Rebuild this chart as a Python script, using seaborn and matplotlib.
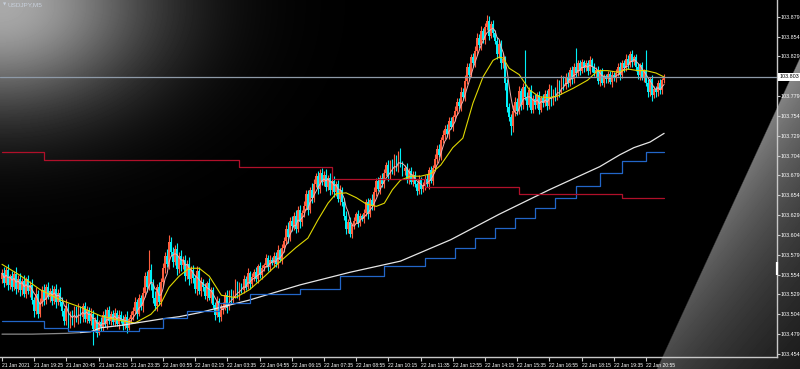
import numpy as np
import pandas as pd
import matplotlib
matplotlib.use("Agg")
import matplotlib.pyplot as plt
import matplotlib.transforms as mtransforms
import seaborn as sns

sns.set_theme(style="dark")
plt.rcParams['font.family'] = ['Liberation Sans', 'DejaVu Sans']

# ---------------- data (prices in points above 103.000, 1 pt = 0.001) ----------------
BASE = 103.0
first_open = 548
close_pts = [
    556,544,560,541,552, 538,555,536,549,534, 546,530,548,533,541, 522,508,530,505,518,
    535,522,539,526,533, 521,536,519,531,520, 508,495,515,492,503, 494,510,497,512,500,
    514,498,510,496,505, 486,497,481,494,488, 503,492,509,495,505, 494,506,492,503,497,
    489,501,487,498,503, 508,519,505,524,514, 531,552,538,560,542, 524,515,538,520,545,
    562,578,568,595,583, 570,586,561,578,566, 572,552,568,548,560, 550,536,558,533,545,
    538,527,543,525,534, 516,503,521,501,510, 514,528,512,531,522, 530,543,527,540,535,
    548,539,556,542,551, 557,549,565,553,562, 566,575,563,573,569, 578,568,585,573,588,
    596,612,601,622,615, 628,612,636,620,632, 640,655,636,661,650, 668,678,662,682,671,
    680,665,676,661,672, 658,668,649,660,646, 628,612,620,605,616, 622,630,619,628,624,
    632,645,630,648,640, 658,672,662,676,668, 682,692,678,695,686, 700,688,706,692,684,
    688,674,685,671,680, 668,659,673,662,666, 675,668,686,672,688, 700,712,705,724,730,
    738,731,748,740,752, 760,772,766,784,778, 798,815,806,828,820, 836,852,843,861,850,
    866,874,855,870,858, 848,832,845,820,826, 795,765,752,741,760, 772,760,785,768,790,
    778,768,786,762,775, 768,780,762,776,770, 782,766,788,772,784, 778,795,784,800,792,
    803,795,812,800,815, 808,820,811,822,814, 820,810,824,815,808, 812,798,810,796,804,
    800,807,797,806,802, 808,816,805,820,814, 826,818,832,822,828, 815,805,818,802,810,
    796,784,800,780,788, 784,796,786,799,803]
wick_up = [
    5,8,4,7,3, 6,4,9,5,7, 4,8,3,6,5, 7,4,8,5,6,
    5,7,3,6,4, 8,4,6,5,7, 6,4,8,3,5, 7,5,4,6,3,
    4,6,5,3,7, 5,4,7,3,6, 5,8,4,6,3, 4,6,3,7,5,
    6,4,7,3,5, 5,7,4,6,4, 8,5,6,25,7, 6,9,4,7,5,
    7,5,8,9,6, 6,5,8,4,7, 5,7,4,8,5, 6,4,7,5,6,
    4,6,3,7,5, 5,4,6,3,7, 6,4,7,3,5, 4,6,3,5,4,
    5,4,6,3,5, 4,6,3,5,4, 3,5,4,6,3, 5,4,6,3,5,
    6,5,8,4,6, 5,7,4,6,3, 7,5,6,4,8, 6,4,7,5,6,
    5,7,4,6,3, 6,4,5,7,4, 5,6,4,7,3, 4,3,5,4,3,
    5,4,6,3,7, 6,4,5,3,6, 5,4,6,4,5, 6,5,4,7,5,
    4,6,3,5,4, 5,3,6,4,5, 4,6,3,5,4, 6,5,7,4,6,
    5,6,4,5,3, 6,5,4,6,5, 7,5,6,4,5, 6,7,5,6,4,
    5,7,6,4,5, 4,6,5,4,7, 4,6,5,4,8, 6,5,7,4,6,
    47,6,4,7,5, 6,4,5,3,6, 5,4,6,5,4, 6,5,4,5,4,
    5,6,4,5,5, 25,4,5,4,3, 5,4,6,3,5, 4,5,3,4,3,
    3,4,3,4,3, 5,4,6,5,4, 6,5,4,5,3, 4,5,3,4,3,
    27,5,3,5,4, 4,3,5,3,4]
wick_dn = [
    4,6,3,7,5, 5,3,6,4,7, 6,4,5,3,7, 5,8,4,6,5,
    4,6,5,3,7, 5,4,7,3,6, 6,5,4,7,5, 4,6,3,5,7,
    6,4,5,3,6, 21,4,6,3,5, 5,4,6,3,5, 4,5,3,6,4,
    5,4,6,3,5, 6,4,7,3,5, 7,5,6,4,8, 6,5,7,4,6,
    5,6,4,7,5, 6,4,7,5,8, 5,6,4,7,5, 6,5,8,4,6,
    5,4,6,3,7, 4,6,3,7,5, 5,4,6,3,5, 4,6,3,5,4,
    4,5,3,6,4, 5,4,6,3,5, 4,3,5,4,3, 5,4,6,3,5,
    6,4,7,5,6, 5,6,4,7,5, 6,5,7,4,6, 5,4,6,5,4,
    5,6,4,7,5, 6,5,4,7,6, 5,7,6,4,5, 4,3,5,4,3,
    5,4,6,3,5, 4,5,3,6,4, 5,4,6,3,5, 6,4,5,3,6,
    5,4,6,3,5, 4,5,3,6,4, 5,4,6,3,5, 4,5,3,6,4,
    5,4,6,3,5, 4,5,3,6,4, 5,4,6,3,5, 4,5,3,6,4,
    5,4,6,3,5, 4,6,5,7,6, 8,6,5,11,7, 6,5,4,7,5,
    4,6,3,5,4, 5,4,6,3,5, 4,5,3,6,4, 5,4,6,3,5,
    4,5,3,6,4, 5,4,6,3,5, 4,5,3,6,4, 5,4,6,3,5,
    4,5,3,6,4, 5,4,6,3,5, 4,5,3,6,4, 5,4,6,3,5,
    4,6,5,7,4, 6,5,4,5,3]

# slow moving average (yellow), sampled along the line
yellow_bar = [0,9,19,29,39,49,59,66,74,79,83,88,93,98,103,109,116,123,131,138,
              146,152,157,162,166,171,176,181,186,190,194,198,203,208,213,218,224,229,234,239,
              244,247,249,252,257,262,267,272,276,284,291,296,301,306,311,316,320,325,329]
yellow_pts = [567,553,535,522,513,502,496,493,504,518,538,552,562,562,552,528,525,535,553,570,
              588,600,623,644,656,657,651,643,640,644,661,673,678,678,681,692,714,726,770,803,
              824,828,827,814,806,787,778,777,779,789,799,811,811,809,813,811,811,808,803]
# long moving average (grey -> white)
white_bar = [0,15,32,39,44,49,59,69,79,88,98,123,148,173,198,223,247,272,297,307,314,322,329]
white_pts = [479,479,480,481,482,487,490,494,498,501,506,522,541,557,571,598,630,661,690,705,714,721,732]
# lower channel (blue steps)
blue_bar = [0,21,33,68,80,92,108,123,148,168,190,210,225,235,245,255,265,275,285,297,308,320,329]
blue_pts = [496,487,483,487,499,508,518,529,536,552,565,575,588,600,613,625,638,651,666,682,697,708,708]
# upper channel (red steps)
red_bar = [0,21,118,164,210,257,308,329]
red_pts = [708,698,689,674,664,656,651,651]

current_price = 103.803
axis_marker = [103.554, 103.570]
price_ticks = ["103.454","103.479","103.504","103.529","103.554","103.579","103.604","103.629",
               "103.654","103.679","103.704","103.729","103.754","103.779","103.804","103.829",
               "103.854","103.879"]
time_labels = ["21 Jan 2021","21 Jan 19:25","21 Jan 20:45","21 Jan 22:15","21 Jan 23:35",
               "22 Jan 00:55","22 Jan 02:15","22 Jan 03:35","22 Jan 04:55","22 Jan 06:15",
               "22 Jan 07:35","22 Jan 08:55","22 Jan 10:15","22 Jan 11:35","22 Jan 12:55",
               "22 Jan 14:15","22 Jan 15:35","22 Jan 16:55","22 Jan 18:15","22 Jan 19:35",
               "22 Jan 20:55"]
time_label_bars = [16 * k for k in range(len(time_labels))]

# ---------------- derived candle table ----------------
closes = BASE + np.array(close_pts) / 1000.0
opens = np.concatenate([[BASE + first_open / 1000.0], closes[:-1]])
highs = np.maximum(opens, closes) + np.array(wick_up) / 1000.0
lows = np.minimum(opens, closes) - np.array(wick_dn) / 1000.0
df = pd.DataFrame({"bar": np.arange(len(closes)), "open": opens, "close": closes,
                   "high": highs, "low": lows})
df["fast"] = df["close"].rolling(5, min_periods=1).mean()

# ---------------- figure ----------------
W, H = 800, 369
fig = plt.figure(figsize=(W / 100, H / 100), dpi=100, facecolor="black")

# background light effects (soft glow top-left, light beam bottom-right)
bg = fig.add_axes([0, 0, 1, 1], zorder=0)
yy, xx = np.mgrid[0:H, 0:W].astype(float)
glow = 0.66 * np.exp(-((xx / 152.0) ** 2 + ((yy - 5) / 105.0) ** 2))
edge_x = 799 - 0.46 * (yy - 57)
inside = np.clip((xx - edge_x) / 1.5, 0, 1)
dist = np.clip(xx - edge_x, 0, None) * np.cos(np.arctan(0.46))
beam = inside * 0.55 * np.exp(-dist / 130) * np.clip(1 - (yy - 57) / 650, 0, 1)
img = np.clip(glow + beam, 0, 1)
bg.imshow(img, cmap="gray", vmin=0, vmax=1, extent=(0, W, H, 0), aspect="auto",
          interpolation="bilinear")
bg.set_axis_off()

ax = fig.add_axes([0, 12 / H, 777 / W, 357 / H], zorder=1)
ax.set_facecolor("none")

up = df["close"] >= df["open"]
col = np.where(up, "#ff5e3e", "#00f0f8")
ax.vlines(df["bar"], df["low"], df["high"], colors=col, lw=0.8, zorder=2)
body_h = np.maximum((df["close"] - df["open"]).abs(), 0.0006)
ax.bar(df["bar"], body_h, bottom=np.minimum(df["open"], df["close"]), width=0.9,
       color=col, linewidth=0, zorder=3)

# indicators
sns.lineplot(x=df["bar"].values, y=df["fast"].values, ax=ax, color="#f4b0b0", lw=0.7,
             estimator=None, sort=False, zorder=4)
yb = np.array(yellow_bar); yp = BASE + np.array(yellow_pts) / 1000.0
sns.lineplot(x=yb, y=yp, ax=ax, color="#e0d800", lw=0.8, estimator=None, sort=False, zorder=5)
wb = np.array(white_bar); wp = BASE + np.array(white_pts) / 1000.0
g = wb <= 39
sns.lineplot(x=wb[g], y=wp[g], ax=ax, color="#8a8a8a", lw=0.9, estimator=None, sort=False, zorder=5)
sns.lineplot(x=wb[wb >= 39], y=wp[wb >= 39], ax=ax, color="#e6e6e6", lw=0.9,
             estimator=None, sort=False, zorder=5)
sns.lineplot(x=np.array(blue_bar), y=BASE + np.array(blue_pts) / 1000.0, ax=ax, color="#2266c8",
             lw=0.9, estimator=None, sort=False, drawstyle="steps-post", zorder=5)
sns.lineplot(x=np.array(red_bar), y=BASE + np.array(red_pts) / 1000.0, ax=ax, color="#b0102a",
             lw=0.9, estimator=None, sort=False, drawstyle="steps-post", zorder=5)

ax.axhline(current_price, color="#8e9aa8", lw=0.9, zorder=6)

# axes scales: bar i sits at 2 + 2.0125*i px
px_per_bar = 2.0125
ax.set_xlim(-2 / px_per_bar, (777 - 2) / px_per_bar)
ax.set_ylim(103.4502, 103.9000)

ax.yaxis.tick_right()
ax.set_yticks([float(t) for t in price_ticks])
ax.set_yticklabels([t if t != "103.804" else "" for t in price_ticks])
ax.set_xticks(time_label_bars)
ax.set_xticklabels(time_labels, ha="left")
off = mtransforms.ScaledTranslation(1.5 / 100, 0, fig.dpi_scale_trans)
for lab in ax.get_xticklabels():
    lab.set_transform(lab.get_transform() + off)
ax.tick_params(axis="y", direction="out", length=2, width=0.8, color="#c8c8c8",
               labelcolor="white", labelsize=3.9, pad=0.6, right=True, left=False)
ax.tick_params(axis="x", direction="out", length=3, width=0.8, color="#c8c8c8",
               labelcolor="white", labelsize=3.6, pad=1.0, bottom=True)
for s in ["left", "top"]:
    ax.spines[s].set_visible(False)
for s in ["right", "bottom"]:
    ax.spines[s].set_color("#c8c8c8")
    ax.spines[s].set_linewidth(1.0)
ax.grid(False)
ax.set_xlabel("")
ax.set_ylabel("")

tr = mtransforms.blended_transform_factory(ax.transAxes, ax.transData)
# small marker on the price scale
ax.plot([1.0, 1.0], axis_marker, transform=tr, color="white", lw=1.6, clip_on=False,
        solid_capstyle="butt", zorder=7)
# current price label
ax.text(1.003, current_price, "103.803", transform=tr, ha="left", va="center", fontsize=3.9,
        color="black", zorder=7, clip_on=False,
        bbox=dict(boxstyle="square,pad=0.3", fc="white", ec="none"))

# symbol caption
fig.text(3 / W, 1 - 5 / H, "\u25BC", fontsize=3.0, color="#c8d0dc", va="center", ha="left",
         family=["DejaVu Sans"])
fig.text(8 / W, 1 - 5 / H, "USDJPY,M5", fontsize=4.6, color="#c8d0dc", va="center", ha="left")

fig.savefig("out.png", dpi=100, facecolor="black")
